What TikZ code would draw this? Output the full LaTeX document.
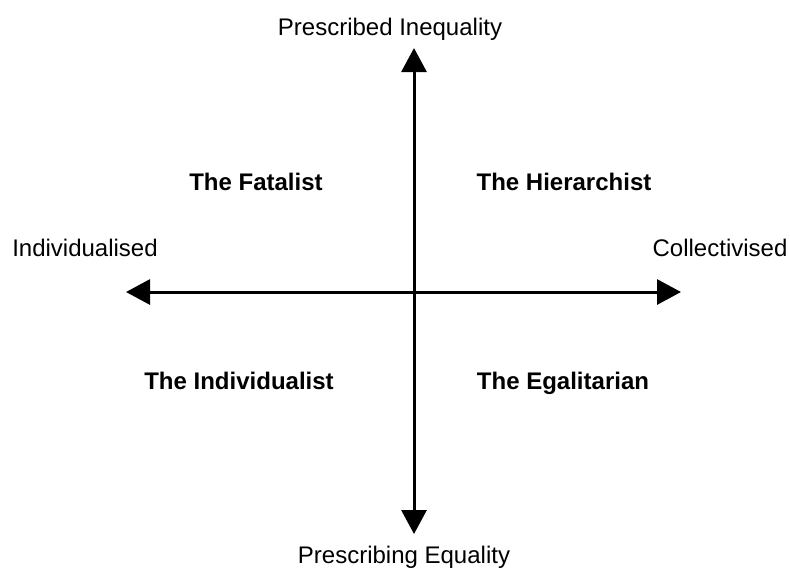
\documentclass[tikz,border=0pt]{standalone}
\usepackage{fontspec}
\setmainfont{Liberation Sans}
\usepackage{tikz}
\usetikzlibrary{arrows.meta}

\begin{document}
\begin{tikzpicture}[x=0.5pt, y=-0.5pt,
    every node/.style={font=\fontsize{12}{14}\selectfont, anchor=base},
    quadrant/.style={font=\fontsize{12}{14}\selectfont\bfseries},
    axis/.style={line width=1.5pt, {Triangle[length=12pt,width=12.5pt]}-{Triangle[length=12pt,width=12.5pt]}}]
  \useasboundingbox (0,0) rectangle (790,570);
  \coordinate (top) at (414,48);
  \coordinate (bottom) at (414,534);
  \coordinate (left) at (126,292);
  \coordinate (right) at (681,292);
  \draw[axis] (bottom) -- (top);
  \draw[axis] (left) -- (right);
  \node (ineq) at (390,35) {Prescribed Inequality};
  \node (eq) at (404,563) {Prescribing Equality};
  \node (indiv) at (85,256) {Individualised};
  \node (coll) at (720,256) {Collectivised};
  \node[quadrant] (fatalist) at (256,190) {The Fatalist};
  \node[quadrant] (hierarchist) at (564,190) {The Hierarchist};
  \node[quadrant] (individualist) at (239,389) {The Individualist};
  \node[quadrant] (egalitarian) at (563,389) {The Egalitarian};
\end{tikzpicture}
\end{document}
